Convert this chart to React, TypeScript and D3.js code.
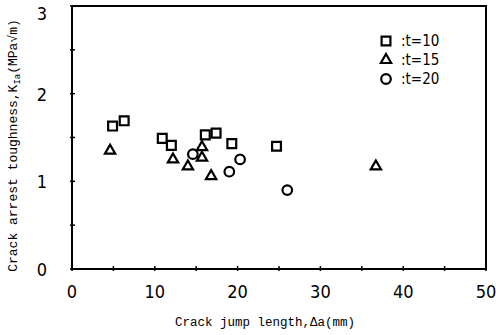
import React from 'react'
import * as d3 from 'd3'

// crack jump length (mm) / arrest toughness (MPa√m)
const t10X = [4.9, 6.3, 10.9, 12.0, 16.1, 17.4, 19.3, 24.7]
const t10Y = [1.63, 1.69, 1.49, 1.41, 1.53, 1.55, 1.43, 1.4]
const t15X = [4.6, 12.2, 14.0, 15.7, 15.7, 16.8, 36.7]
const t15Y = [1.35, 1.25, 1.17, 1.39, 1.27, 1.06, 1.17]
const t20X = [14.6, 19.0, 20.3, 26.0]
const t20Y = [1.31, 1.11, 1.25, 0.9]

const xTicks = [0, 10, 20, 30, 40, 50]
const yTicks = [0, 1, 2, 3]
const legendLabels = [':t=10', ':t=15', ':t=20']

const W = 496
const H = 335
const margin = { top: 6, right: 10, bottom: 66, left: 72 }

const x = d3.scaleLinear().domain([0, 50]).range([margin.left, W - margin.right])
const y = d3.scaleLinear().domain([0, 3]).range([H - margin.bottom, margin.top])

const zip = (xs: number[], ys: number[]) => xs.map((v, i) => [v, ys[i]] as [number, number])

const square = d3.symbol(d3.symbolSquare, 78)
const tri = d3.symbol(d3.symbolTriangle, 46)

const Marker = ({ kind, cx, cy }: { kind: number; cx: number; cy: number }) => {
    if (kind === 2) return <circle cx={cx} cy={cy} r={4.8} fill="none" stroke="#000" strokeWidth={2.2} />
    const d = kind === 0 ? square() : tri()
    return <path d={d || ''} transform={`translate(${cx},${cy})`} fill="none" stroke="#000" strokeWidth={2.2} />
}

export default function App() {
    const series = [zip(t10X, t10Y), zip(t15X, t15Y), zip(t20X, t20Y)]
    const x0 = x.range()[0]
    const x1 = x.range()[1]
    const y0 = y.range()[0]
    const y1 = y.range()[1]

    return (
        <svg width={W} height={H} style={{ position: 'absolute', left: 0, top: 0, background: '#fff' }}>
            <rect x={x0} y={y1} width={x1 - x0} height={y0 - y1} fill="none" stroke="#000" strokeWidth={2} />
            {d3.range(0, 51, 5).map((v) => (
                <line key={'xt' + v} x1={x(v)} x2={x(v)} y1={y0 - 3} y2={y0 + 2} stroke="#000" strokeWidth={1.5} />
            ))}
            {d3.range(0, 3.01, 0.5).map((v) => (
                <line key={'yt' + v} x1={x0 - 2} x2={x0 + 3} y1={y(v)} y2={y(v)} stroke="#000" strokeWidth={1.5} />
            ))}
            <g fontFamily="'Liberation Sans Narrow', 'DejaVu Sans Condensed', sans-serif" fontSize={18} fill="#000">
                {xTicks.map((v) => (
                    <text key={'xl' + v} x={x(v)} y={y0 + 29} textAnchor="middle">{v}</text>
                ))}
                {yTicks.map((v) => (
                    <text key={'yl' + v} x={47} y={Math.max(y(v) + 7, 20)} textAnchor="end">{v}</text>
                ))}
            </g>
            <text x={265} y={H - 9} textAnchor="middle" fontFamily="'Liberation Mono', monospace" fontSize={12.5}>
                Crack jump length,Δa(mm)
            </text>
            <text
                transform={`translate(17,${(y0 + y1) / 2 + 8}) rotate(-90)`}
                textAnchor="middle"
                fontFamily="'Liberation Mono', monospace"
                fontSize={13}
            >
                Crack arrest toughness,K<tspan fontSize={9} dy={3}>Ia</tspan>
                <tspan dy={-3}>(MPa√m)</tspan>
            </text>
            {series.map((pts, k) =>
                pts.map(([a, b], i) => <Marker key={k + '-' + i} kind={k} cx={x(a)} cy={y(b)} />)
            )}
            {legendLabels.map((lab, k) => (
                <g key={lab}>
                    <Marker kind={k} cx={386} cy={41 + k * 19} />
                    <text
                        x={401}
                        y={41 + k * 19 + 5}
                        fontFamily="'Liberation Sans Narrow', 'DejaVu Sans Condensed', sans-serif"
                        fontSize={15}
                    >
                        {lab}
                    </text>
                </g>
            ))}
        </svg>
    )
}
